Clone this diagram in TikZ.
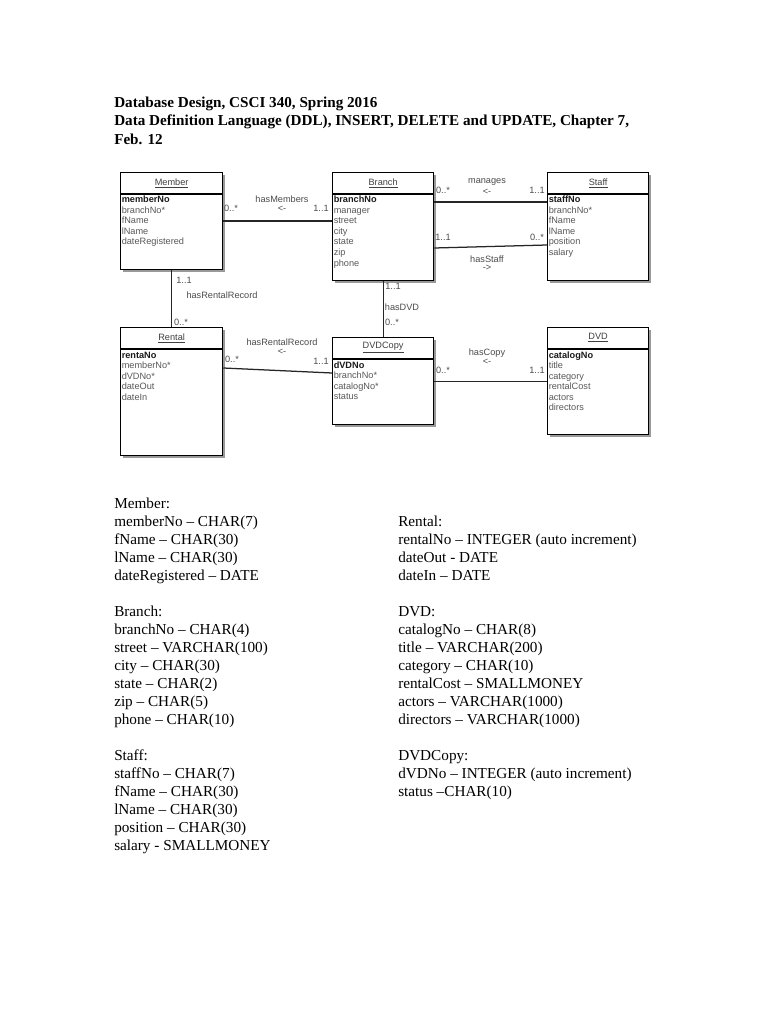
\documentclass[tikz,border=0pt]{standalone}
\usepackage{fontspec}
\setmainfont{Liberation Serif}
\newfontfamily\diagfont{Liberation Sans}
\usetikzlibrary{calc,shadows}
\def\pxu{0.7948pt}
\newcommand\entitybox[6]{% name, x, y, w, h, title
  \node[entity, minimum width=#4*\pxu, minimum height=#5*\pxu] (#1) at (#2,#3) {};
  \draw[boxline] ($(#1.north west)+(0,22)$) -- ($(#1.north east)+(0,22)$);
  \node[headtxt] (#1-title) at ($(#1.north)+(0,11)$) {\underline{#6}};
}
\newcommand\attrlist[3]{% box, key, others
  \node[keytxt] (#1-key) at ($(#1.north west)+(1.5,31)$) {#2};
  \foreach \a [count=\i] in {#3}
    \node[attrtxt] (#1-a\i) at ($(#1.north west)+(1.5,31+10.5*\i)$) {\a};
}
\newcommand\textgroup[4]{% name, x, y, list
  \foreach \t [count=\i from 0] in {#4}
    \node[bodytxt] (#1-\i) at (#2,#3+18*\i) {\t};
}
\begin{document}
\begin{tikzpicture}[x=0.7948pt,y=-0.7948pt,
  entity/.style={draw=black, line width=1pt, fill=white, anchor=north west, inner sep=0pt,
    drop shadow={shadow xshift=1.5pt, shadow yshift=-1.5pt, fill=black!40, opacity=1}},
  boxline/.style={draw=black, line width=1pt},
  conn/.style={draw=black!85, line width=1pt},
  dfont/.style={font=\diagfont\fontsize{7.3}{8.5}\selectfont},
  headtxt/.style={dfont, text=black!75, inner sep=0pt},
  keytxt/.style={font=\diagfont\bfseries\fontsize{7.3}{8.5}\selectfont, text=black!90, anchor=base west, inner sep=0pt},
  attrtxt/.style={dfont, text=black!65, anchor=base west, inner sep=0pt},
  lbl/.style={dfont, text=black!70, inner sep=0pt},
  bodytxt/.style={font=\fontsize{12.1}{14}\selectfont, anchor=base west, inner sep=0pt},
  titletxt/.style={font=\bfseries\fontsize{12.05}{14}\selectfont, anchor=base west, inner sep=0pt}]
\fill[white] (0,0) rectangle (770,1024);
\useasboundingbox (0,0) rectangle (770,1024);

% title
\node[titletxt] (t1) at (114,107.5) {Database Design, CSCI 340, Spring 2016};
\node[titletxt] (t2) at (114,126) {Data Definition Language (DDL), INSERT, DELETE and UPDATE, Chapter 7,};
\node[titletxt] (t3) at (114,144.5) {Feb. 12};

% entities
\entitybox{member}{120}{172}{102}{97}{Member}
\attrlist{member}{memberNo}{branchNo*,fName,lName,dateRegistered}
\entitybox{branch}{332}{172}{101}{108}{Branch}
\attrlist{branch}{branchNo}{manager,street,city,state,zip,phone}
\entitybox{staff}{547}{172}{101}{108}{Staff}
\attrlist{staff}{staffNo}{branchNo*,fName,lName,position,salary}
\entitybox{rental}{120}{327}{102}{128}{Rental}
\attrlist{rental}{rentaNo}{memberNo*,dVDNo*,dateOut,dateIn}
\entitybox{dvdcopy}{332}{337}{101}{87}{DVDCopy}
\attrlist{dvdcopy}{dVDNo}{branchNo*,catalogNo*,status}
\entitybox{dvd}{547}{327}{101}{107}{DVD}
\attrlist{dvd}{catalogNo}{title,category,rentalCost,actors,directors}

% connectors
\draw[conn] (member.east) -- (member.east -| branch.west);
\draw[conn] ($(branch.north east)+(0,30)$) -- ($(staff.north west)+(0,30)$);
\draw[conn] ($(branch.north east)+(0,76)$) -- ($(staff.north west)+(0,73)$);
\draw[conn] (member.south) -- (member.south |- rental.north);
\draw[conn] (branch.south) -- (branch.south |- dvdcopy.north);
\draw[conn] ($(rental.north east)+(0,41)$) -- ($(dvdcopy.north west)+(0,36)$);
\draw[conn] (dvdcopy.east) -- (dvdcopy.east -| dvd.west);

% connector labels
\node[lbl] (l1) at (282,199) {hasMembers};
\node[lbl] (l2) at (282,209) {<-};
\node[lbl] (l3) at (231,208) {0..*};
\node[lbl] (l4) at (321,208) {1..1};
\node[lbl] (l5) at (487,182) {manages};
\node[lbl] (l6) at (487,192) {<-};
\node[lbl] (l7) at (443,190) {0..*};
\node[lbl] (l8) at (537,190) {1..1};
\node[lbl] (l9) at (443,237) {1..1};
\node[lbl] (l10) at (537,237) {0..*};
\node[lbl] (l11) at (487,259) {hasStaff};
\node[lbl] (l12) at (487,268) {->};
\node[lbl] (l13) at (184,280) {1..1};
\node[lbl] (l14) at (222,295) {hasRentalRecord};
\node[lbl] (l15) at (181,322) {0..*};
\node[lbl] (l16) at (393,286) {1..1};
\node[lbl] (l17) at (402,307) {hasDVD};
\node[lbl] (l18) at (392,322) {0..*};
\node[lbl] (l19) at (282,342) {hasRentalRecord};
\node[lbl] (l20) at (282,352) {<-};
\node[lbl] (l21) at (232,359) {0..*};
\node[lbl] (l22) at (321,361) {1..1};
\node[lbl] (l23) at (487,353) {hasCopy};
\node[lbl] (l24) at (487,362) {<-};
\node[lbl] (l25) at (443,370) {0..*};
\node[lbl] (l26) at (537,370) {1..1};

% text below
\textgroup{tm}{114}{508}{Member:,memberNo – CHAR(7),fName – CHAR(30),lName – CHAR(30),dateRegistered – DATE}
\textgroup{tb}{114}{616}{Branch:,branchNo – CHAR(4),street – VARCHAR(100),city – CHAR(30),state – CHAR(2),zip – CHAR(5),phone – CHAR(10)}
\textgroup{ts}{114}{760}{Staff:,staffNo – CHAR(7),fName – CHAR(30),lName – CHAR(30),position – CHAR(30),salary - SMALLMONEY}
\textgroup{tr}{398}{526}{Rental:,rentalNo – INTEGER (auto increment),dateOut - DATE,dateIn – DATE}
\textgroup{td}{398}{616}{DVD:,catalogNo – CHAR(8),title – VARCHAR(200),category – CHAR(10),rentalCost – SMALLMONEY,actors – VARCHAR(1000),directors – VARCHAR(1000)}
\textgroup{tc}{398}{760}{DVDCopy:,dVDNo – INTEGER (auto increment),status –CHAR(10)}
\end{tikzpicture}
\end{document}
